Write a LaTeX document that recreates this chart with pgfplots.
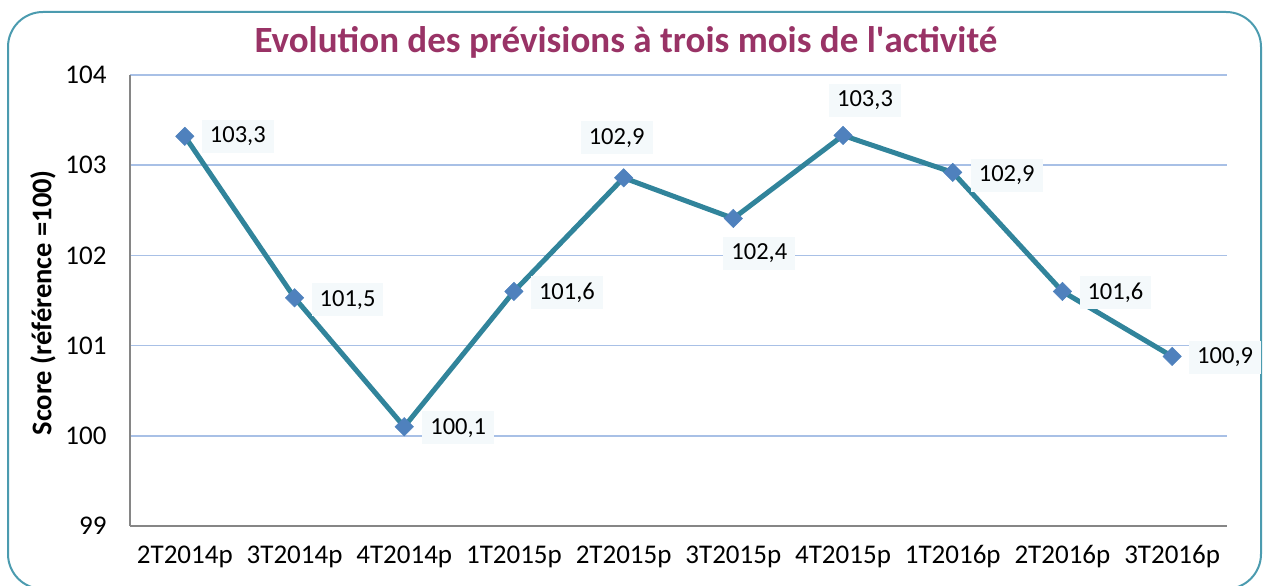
\documentclass[border=0pt]{standalone}
\usepackage{pgfplots}
\pgfplotsset{compat=1.18}
\usepackage{pgfplotstable}
\usepackage{fontspec}
\setmainfont{Carlito}
\definecolor{framecol}{RGB}{75,155,175}
\definecolor{titlecol}{RGB}{153,51,102}
\definecolor{linecol}{RGB}{49,132,155}
\definecolor{markcol}{RGB}{79,129,189}
\definecolor{gridcol}{RGB}{168,192,230}
\definecolor{axiscol}{RGB}{134,134,134}
\definecolor{labelbg}{RGB}{244,249,251}

\pgfplotstableread{
x y dx dy label
0 103.32 53 0 103,3
1 101.53 53 -2 101,5
2 100.10 54 -1 100,1
3 101.60 53 -1 101,6
4 102.86 -7 40 102,9
5 102.41 26 -35 102,4
6 103.33 22 35 103,3
7 102.92 54 -3 102,9
8 101.60 53 -1 101,6
9 100.88 53 -1 100,9
}\datatable

\begin{document}
\begin{tikzpicture}[x=1bp,y=1bp]
\useasboundingbox (0,0) rectangle (1268,586);
\draw[framecol, line width=2bp, rounded corners=35bp] (8,-3) rectangle (1261,574);
\node[font=\fontsize{37bp}{40bp}\selectfont\bfseries, text=titlecol] at (626,544) {Evolution des prévisions à trois mois de l\textquotesingle activité};
\begin{axis}[
  at={(130bp,60bp)}, anchor=south west,
  scale only axis, width=1097bp, height=451bp,
  xmin=-0.5, xmax=9.5, ymin=99, ymax=104,
  ytick={99,100,101,102,103,104},
  xtick=data,
  xticklabels={2T2014p,3T2014p,4T2014p,1T2015p,2T2015p,3T2015p,4T2015p,1T2016p,2T2016p,3T2016p},
  ymajorgrids, grid style={gridcol, line width=1.5bp},
  axis x line*=bottom, axis y line*=left,
  axis line style={axiscol, line width=1.5bp, -},
  tick style={draw=none},
  /pgf/number format/assume math mode=true,
  ticklabel style={font=\fontsize{27bp}{30bp}\selectfont},
  yticklabel style={xshift=-20bp},
  xticklabel style={anchor=north, yshift=-16bp},
  every axis y label/.style={at={(axis description cs:-0.0793,0.495)}, rotate=90, anchor=center},
  ylabel={\fontsize{28.5bp}{32bp}\selectfont\bfseries Score (référence =100)},
  clip=false,
]
\addplot[linecol, line width=5bp, mark=square*, mark size=6.5bp,
  mark options={fill=markcol, draw=markcol, rotate=45, line width=0.5bp},
  point meta=explicit symbolic,
  visualization depends on=\thisrow{dx} \as \dx,
  visualization depends on=\thisrow{dy} \as \dy,
  nodes near coords,
  nodes near coords style={anchor=center, xshift=\dx bp, yshift=\dy bp, fill=labelbg, text=black,
    inner xsep=8bp, inner ysep=7bp, font=\fontsize{24.5bp}{28bp}\selectfont},
] table[x=x, y=y, meta=label] {\datatable};
\end{axis}
\end{tikzpicture}
\end{document}
